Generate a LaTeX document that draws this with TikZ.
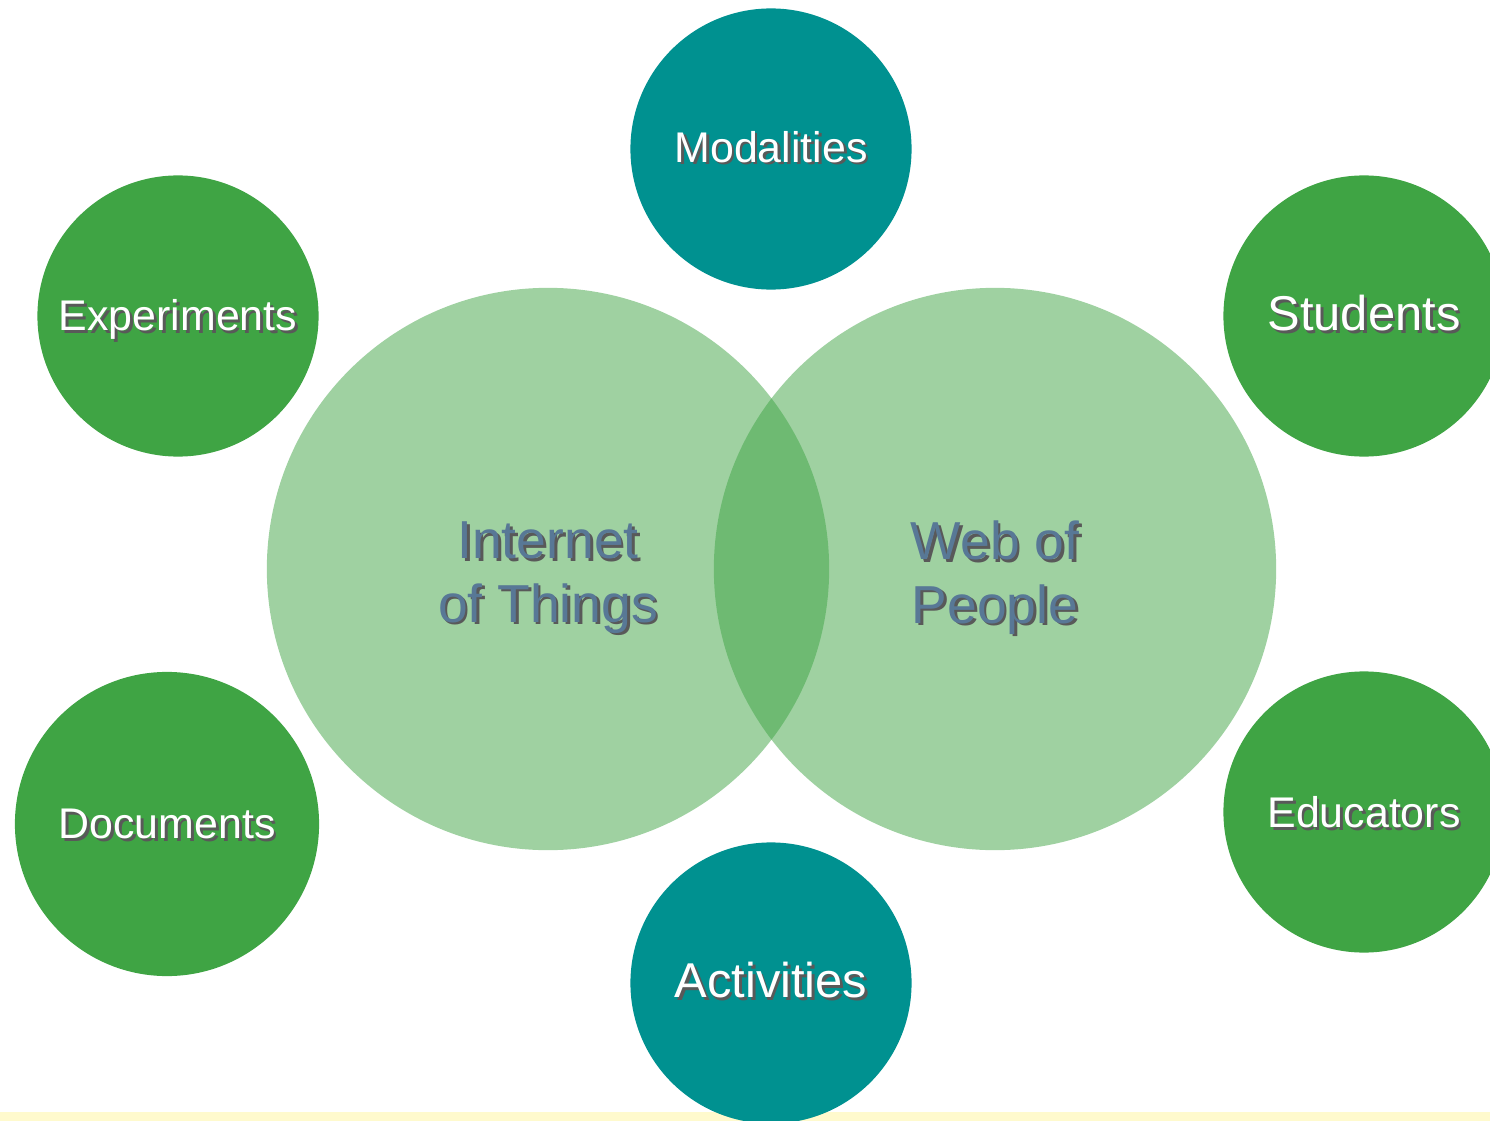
\documentclass[tikz,border=0pt]{standalone}
\usepackage{fontspec}
\setmainfont{Liberation Sans}
\usepackage{xcolor}

\definecolor{leafgreen}{RGB}{63,164,68}
\definecolor{tealblue}{RGB}{0,145,144}
\definecolor{slatetext}{RGB}{88,120,150}
\definecolor{paleyellow}{RGB}{255,250,205}

% text with a small dark drop shadow
\newcommand\shtext[1]{\makebox[0pt][l]{\hspace{0.8pt}\raisebox{-0.8pt}{\color{black!65}#1}}#1}
% first line of a two-line label, a little taller on top
\newcommand\topline[1]{\raisebox{0pt}[\dimexpr\height+0.06cm\relax]{\shtext{#1}}}

\begin{document}
\begin{tikzpicture}[x=0.01cm, y=-0.01cm,
  bigc/.style={circle, fill=leafgreen, fill opacity=0.5, text opacity=1,
    minimum size=5.62cm, inner sep=0pt, align=center, text depth=0pt,
    text=slatetext, font=\fontsize{15.2}{18}\selectfont},
  greenc/.style={circle, fill=leafgreen, minimum size=2.81cm, inner sep=0pt,
    text height=0.84em, text depth=0pt,
    text=white, font=\fontsize{12.2}{14}\selectfont},
  tealc/.style={greenc, fill=tealblue},
  bigword/.style={font=\fontsize{13.9}{16}\selectfont}]
  % page and yellow strip at the bottom
  \useasboundingbox (0,0) rectangle (1490,1121);
  \clip (0,0) rectangle (1490,1121);
  \fill[paleyellow] (0,1112) rectangle (1490,1121);

  % the two large overlapping circles
  \node[bigc] (iot) at (548,569) {\topline{Internet}\\\shtext{of Things}};
  \node[bigc] (wop) at (995,569) {\topline{Web of}\\\shtext{People}};

  % small circles round them
  \node[tealc, text height=0.74em] (mod) at (771,149) {\shtext{Modalities}};
  \node[tealc, bigword] (act) at (771,983) {\shtext{Activities}};
  \node[greenc] (exp) at (178,316) {\shtext{Experiments}};
  \node[greenc, minimum size=3.04cm] (doc) at (167,824) {\shtext{Documents}};
  \node[greenc, bigword] (stu) at (1364,316) {\shtext{Students}};
  \node[greenc, text height=0.9em] (edu) at (1364,812) {\shtext{Educators}};
\end{tikzpicture}
\end{document}
